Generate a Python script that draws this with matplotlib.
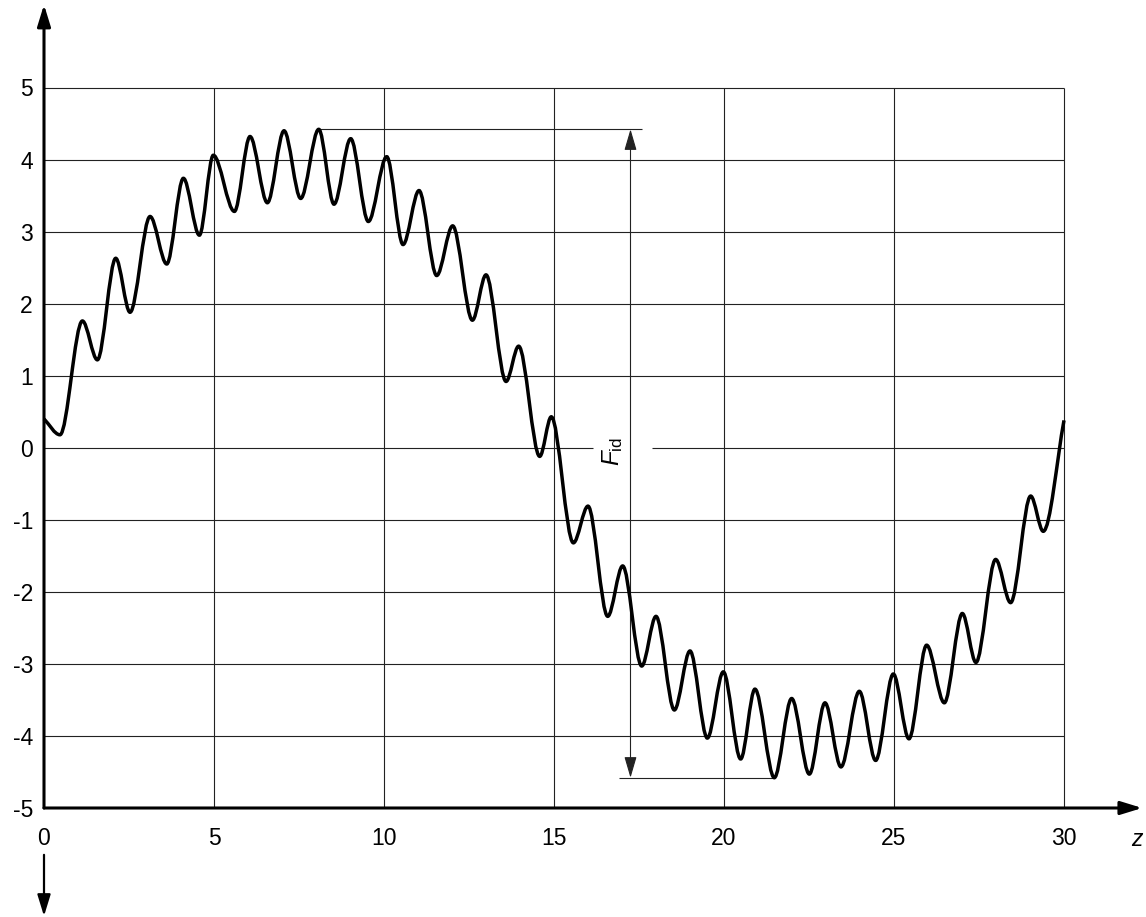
import matplotlib
matplotlib.use("Agg")
import matplotlib.pyplot as plt
from matplotlib.path import Path
from matplotlib.patches import PathPatch, ArrowStyle

plt.rcParams["font.family"] = "Liberation Sans"
plt.rcParams["axes.unicode_minus"] = False
plt.rcParams["mathtext.fontset"] = "custom"
plt.rcParams["mathtext.rm"] = "Liberation Sans"
plt.rcParams["mathtext.it"] = "Liberation Sans:italic"

# local extrema of the curve (plus its two end points)
curve_z = [0, 0.47, 1.13, 1.57, 2.11, 2.53, 3.12, 3.61, 4.10, 4.57,
           4.98, 5.60, 6.06, 6.57, 7.06, 7.55, 8.08, 8.53, 9.02, 9.54,
           10.08, 10.56, 11.03, 11.55, 12.02, 12.60, 13.00, 13.59, 13.96, 14.58,
           14.92, 15.57, 16.00, 16.58, 17.02, 17.58, 18.00, 18.54, 19.00, 19.51,
           19.98, 20.49, 20.91, 21.48, 21.99, 22.51, 22.97, 23.44, 23.98, 24.46,
           24.98, 25.44, 25.96, 26.48, 27.01, 27.41, 27.99, 28.43, 29.02, 29.39,
           30]
curve_f = [0.40, 0.18, 1.76, 1.22, 2.63, 1.88, 3.21, 2.55, 3.74, 2.95,
           4.06, 3.28, 4.32, 3.40, 4.40, 3.46, 4.42, 3.38, 4.29, 3.14,
           4.04, 2.82, 3.57, 2.39, 3.08, 1.77, 2.40, 0.92, 1.41, -0.12,
           0.43, -1.32, -0.81, -2.34, -1.64, -3.03, -2.34, -3.64, -2.82, -4.03,
           -3.11, -4.32, -3.35, -4.58, -3.48, -4.53, -3.54, -4.43, -3.38, -4.34,
           -3.14, -4.04, -2.74, -3.54, -2.30, -2.98, -1.55, -2.15, -0.67, -1.16,
           0.38]

x_ticks = [0, 5, 10, 15, 20, 25, 30]
y_ticks = [-5, -4, -3, -2, -1, 0, 1, 2, 3, 4, 5]

fig = plt.figure(figsize=(11.46, 9.17), dpi=100)
ax = fig.add_axes([44 / 1146, 109 / 917, 1020 / 1146, 720.5 / 917])
ax.set_xlim(0, 30)
ax.set_ylim(-5, 5)
for s in ax.spines.values():
    s.set_visible(False)

ax.set_xticks(x_ticks)
ax.set_yticks(y_ticks)
ax.set_xticklabels([str(v) for v in x_ticks])
ax.set_yticklabels([str(v) for v in y_ticks])
ax.tick_params(axis="both", length=0, labelsize=16.5, colors="black")
ax.tick_params(axis="x", pad=14)
ax.tick_params(axis="y", pad=8)

# grid (the zero line is broken where the F_id label sits)
grid_kw = dict(color="#222222", lw=0.8, zorder=1, clip_on=False)
ax.vlines(x_ticks[1:], -5, 5, **grid_kw)
ax.hlines([v for v in y_ticks if v not in (-5, 0)], 0, 30, **grid_kw)
ax.hlines([0, 0], [0, 17.87], [16.14, 30], **grid_kw)

# curve: cubic segments between extrema, flat tangents at the extrema
verts = [(curve_z[0], curve_f[0])]
codes = [Path.MOVETO]
last = len(curve_z) - 2
for i in range(len(curve_z) - 1):
    x0, y0 = curve_z[i], curve_f[i]
    x1, y1 = curve_z[i + 1], curve_f[i + 1]
    dx, dy = x1 - x0, y1 - y0
    c1 = (x0 + dx / 3, y0 + dy / 3) if i == 0 else (x0 + dx / 3, y0)
    c2 = (x1 - dx / 3, y1 - dy / 3) if i == last else (x1 - dx / 3, y1)
    verts += [c1, c2, (x1, y1)]
    codes += [Path.CURVE4] * 3
ax.add_patch(PathPatch(Path(verts, codes), facecolor="none", edgecolor="black",
                       lw=2.5, joinstyle="round", zorder=3, clip_on=False))

# axes with arrow heads
head = ArrowStyle("-|>", head_length=13, head_width=4)
axis_kw = dict(arrowstyle=head, mutation_scale=1, color="black",
               lw=2.2, shrinkA=0, shrinkB=0)
ax.annotate("", xy=(0, 6.15), xytext=(0, -5), arrowprops=axis_kw,
            annotation_clip=False, zorder=4)
ax.annotate("", xy=(32.3, -5), xytext=(0, -5), arrowprops=axis_kw,
            annotation_clip=False, zorder=4)
down_kw = dict(axis_kw, lw=1.6)
ax.annotate("", xy=(0, -6.5), xytext=(0, -5.65), arrowprops=down_kw,
            annotation_clip=False, zorder=4)
ax.text(32.14, -5.44, "z", style="italic", fontsize=16.5,
        ha="center", va="center", clip_on=False)

# F_id dimension between the highest peak and the lowest trough
i_max = curve_f.index(max(curve_f))
i_min = curve_f.index(min(curve_f))
f_max, f_min = curve_f[i_max], curve_f[i_min]
dim_x = 17.25
ax.hlines(f_max, curve_z[i_max], 17.6, color="#222222", lw=0.8, zorder=2)
ax.hlines(f_min, 16.92, curve_z[i_min], color="#222222", lw=0.8, zorder=2)
ax.annotate("", xy=(dim_x, f_max), xytext=(dim_x, f_min),
            arrowprops=dict(arrowstyle=ArrowStyle("<|-|>", head_length=13, head_width=3.8),
                            mutation_scale=1, color="#222222", lw=0.8,
                            shrinkA=0, shrinkB=0), zorder=2)
ax.text(16.72, -0.05, r"$F_{\mathrm{id}}$", rotation=90, fontsize=17.5,
        ha="center", va="center")

fig.savefig("out.png", dpi=100)
